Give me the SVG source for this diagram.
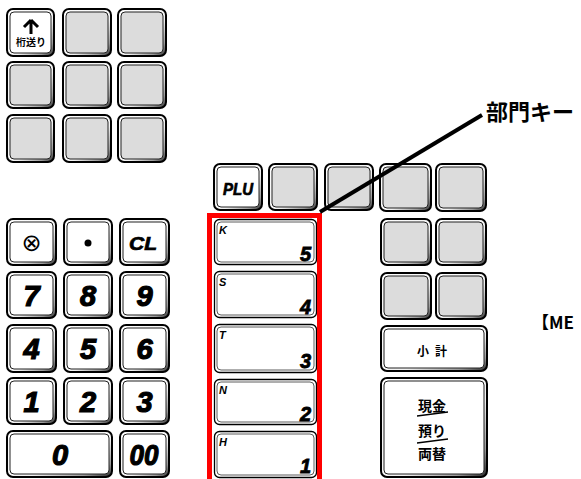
<svg xmlns="http://www.w3.org/2000/svg" width="581" height="479" viewBox="0 0 581 479">
<defs>
<linearGradient id="bev" x1="0" y1="0" x2="1" y2="1">
<stop offset="0" stop-color="#ffffff"/>
<stop offset="0.6" stop-color="#f2f2f2"/>
<stop offset="0.85" stop-color="#9a9a9a"/>
<stop offset="1" stop-color="#222"/>
</linearGradient>
<style>
.ko{fill:url(#bev);stroke:#000;stroke-width:2}
.kg{fill:#dcdcdc;stroke:#222;stroke-width:1}
.kw{fill:#fff;stroke:#222;stroke-width:1}
.do{fill:#fff;stroke:#000;stroke-width:1.3}
.di{fill:#fff;stroke:#333;stroke-width:0.8}
.num{font-family:"Liberation Sans",Arial,sans-serif;font-weight:bold;font-style:italic;font-size:29px;text-anchor:middle;fill:#000;stroke:#000;stroke-width:1.2}
.lbl{font-family:"Liberation Sans",Arial,sans-serif;font-weight:bold;font-style:italic;fill:#000;stroke:#000;stroke-width:0.7}
.dl{font-family:"Liberation Sans",Arial,sans-serif;font-weight:bold;font-style:italic;font-size:11px;fill:#000}
.dn{font-family:"Liberation Sans",Arial,sans-serif;font-weight:bold;font-style:italic;font-size:20px;text-anchor:end;fill:#000;stroke:#000;stroke-width:0.8}
.jp{font-family:"Noto Sans CJK JP","Noto Sans CJK SC",sans-serif;font-weight:bold;fill:#000;text-anchor:middle}
.lead{stroke:#000;stroke-width:4;fill:none}
</style>
</defs>
<rect width="581" height="479" fill="#fff"/>

<!-- top grid -->
<g id="k-shift"><rect class="ko" x="7" y="9" width="47" height="47" rx="6"/><rect class="kw" x="10" y="12" width="41" height="41" rx="4"/>
<path d="M31,20 L24,27 M31,20 L38,27 M31,20 L31,34" stroke="#000" stroke-width="3" fill="none"/>
<text class="jp" x="31" y="46" font-size="10">桁送り</text></g>
<g id="k-t2"><rect class="ko" x="63" y="9" width="48" height="47" rx="6"/><rect class="kg" x="66" y="12" width="42" height="41" rx="4"/></g>
<g id="k-t3"><rect class="ko" x="118" y="9" width="48" height="47" rx="6"/><rect class="kg" x="121" y="12" width="42" height="41" rx="4"/></g>
<g id="k-t4"><rect class="ko" x="7" y="62" width="47" height="46" rx="6"/><rect class="kg" x="10" y="65" width="41" height="40" rx="4"/></g>
<g id="k-t5"><rect class="ko" x="63" y="62" width="48" height="46" rx="6"/><rect class="kg" x="66" y="65" width="42" height="40" rx="4"/></g>
<g id="k-t6"><rect class="ko" x="118" y="62" width="48" height="46" rx="6"/><rect class="kg" x="121" y="65" width="42" height="40" rx="4"/></g>
<g id="k-t7"><rect class="ko" x="7" y="115" width="47" height="47" rx="6"/><rect class="kg" x="10" y="118" width="41" height="41" rx="4"/></g>
<g id="k-t8"><rect class="ko" x="63" y="115" width="48" height="47" rx="6"/><rect class="kg" x="66" y="118" width="42" height="41" rx="4"/></g>
<g id="k-t9"><rect class="ko" x="118" y="115" width="48" height="47" rx="6"/><rect class="kg" x="121" y="118" width="42" height="41" rx="4"/></g>

<!-- numeric pad -->
<g id="k-void"><rect class="ko" x="7" y="219" width="49" height="46" rx="6"/><rect class="kw" x="10" y="222" width="43" height="40" rx="4"/>
<text x="31.5" y="251" font-family="DejaVu Sans,sans-serif" font-size="24" text-anchor="middle">⊗</text></g>
<g id="k-dot"><rect class="ko" x="64" y="219" width="48" height="46" rx="6"/><rect class="kw" x="67" y="222" width="42" height="40" rx="4"/>
<circle cx="88" cy="243" r="3.5" fill="#000"/></g>
<g id="k-cl"><rect class="ko" x="120" y="219" width="49" height="46" rx="6"/><rect class="kw" x="123" y="222" width="43" height="40" rx="4"/>
<text class="lbl" x="143" y="250" font-size="18" text-anchor="middle" textLength="28" lengthAdjust="spacingAndGlyphs">CL</text></g>

<g id="k-7"><rect class="ko" x="7" y="272" width="49" height="46" rx="6"/><rect class="kw" x="10" y="275" width="43" height="40" rx="4"/><text class="num" x="31.5" y="306">7</text></g>
<g id="k-8"><rect class="ko" x="64" y="272" width="48" height="46" rx="6"/><rect class="kw" x="67" y="275" width="42" height="40" rx="4"/><text class="num" x="88" y="306">8</text></g>
<g id="k-9"><rect class="ko" x="120" y="272" width="49" height="46" rx="6"/><rect class="kw" x="123" y="275" width="43" height="40" rx="4"/><text class="num" x="144.5" y="306">9</text></g>

<g id="k-4"><rect class="ko" x="7" y="325" width="49" height="47" rx="6"/><rect class="kw" x="10" y="328" width="43" height="41" rx="4"/><text class="num" x="31.5" y="359">4</text></g>
<g id="k-5"><rect class="ko" x="64" y="325" width="48" height="47" rx="6"/><rect class="kw" x="67" y="328" width="42" height="41" rx="4"/><text class="num" x="88" y="359">5</text></g>
<g id="k-6"><rect class="ko" x="120" y="325" width="49" height="47" rx="6"/><rect class="kw" x="123" y="328" width="43" height="41" rx="4"/><text class="num" x="144.5" y="359">6</text></g>

<g id="k-1"><rect class="ko" x="7" y="378" width="49" height="46" rx="6"/><rect class="kw" x="10" y="381" width="43" height="40" rx="4"/><text class="num" x="31.5" y="412">1</text></g>
<g id="k-2"><rect class="ko" x="64" y="378" width="48" height="46" rx="6"/><rect class="kw" x="67" y="381" width="42" height="40" rx="4"/><text class="num" x="88" y="412">2</text></g>
<g id="k-3"><rect class="ko" x="120" y="378" width="49" height="46" rx="6"/><rect class="kw" x="123" y="381" width="43" height="40" rx="4"/><text class="num" x="144.5" y="412">3</text></g>

<g id="k-0"><rect class="ko" x="7" y="431" width="105" height="46" rx="6"/><rect class="kw" x="10" y="434" width="99" height="40" rx="4"/><text class="num" x="60" y="465">0</text></g>
<g id="k-00"><rect class="ko" x="120" y="431" width="49" height="46" rx="6"/><rect class="kw" x="123" y="434" width="43" height="40" rx="4"/><text class="num" x="144" y="465" textLength="29" lengthAdjust="spacingAndGlyphs">00</text></g>

<!-- PLU row -->
<g id="k-plu"><rect class="ko" x="214" y="164" width="48" height="46" rx="6"/><rect class="kw" x="217" y="167" width="42" height="40" rx="4"/>
<text class="lbl" x="238" y="195" font-size="17" text-anchor="middle" textLength="30" lengthAdjust="spacingAndGlyphs">PLU</text></g>
<g id="k-p2"><rect class="ko" x="269" y="164" width="48" height="46" rx="6"/><rect class="kg" x="272" y="167" width="42" height="40" rx="4"/></g>
<g id="k-p3"><rect class="ko" x="325" y="164" width="48" height="46" rx="6"/><rect class="kg" x="328" y="167" width="42" height="40" rx="4"/></g>
<g id="k-p4"><rect class="ko" x="380" y="164" width="51" height="47" rx="6"/><rect class="kg" x="383" y="167" width="45" height="41" rx="4"/></g>
<g id="k-p5"><rect class="ko" x="436" y="164" width="50" height="47" rx="6"/><rect class="kg" x="439" y="167" width="44" height="41" rx="4"/></g>

<!-- right block -->
<g id="k-r1"><rect class="ko" x="381" y="219" width="50" height="46" rx="6"/><rect class="kg" x="384" y="222" width="44" height="40" rx="4"/></g>
<g id="k-r2"><rect class="ko" x="436" y="219" width="50" height="46" rx="6"/><rect class="kg" x="439" y="222" width="44" height="40" rx="4"/></g>
<g id="k-r3"><rect class="ko" x="381" y="273" width="50" height="46" rx="6"/><rect class="kg" x="384" y="276" width="44" height="40" rx="4"/></g>
<g id="k-r4"><rect class="ko" x="436" y="273" width="50" height="46" rx="6"/><rect class="kg" x="439" y="276" width="44" height="40" rx="4"/></g>
<g id="k-subtotal"><rect class="ko" x="381" y="326" width="106" height="45" rx="6"/><rect class="kw" x="384" y="329" width="100" height="39" rx="4"/>
<text class="jp" x="435" y="356" font-size="12" letter-spacing="6">小計</text></g>
<g id="k-cash"><rect class="ko" x="381" y="378" width="106" height="99" rx="6"/><rect class="kw" x="384" y="381" width="100" height="93" rx="4"/>
<text class="jp" x="432" y="411" font-size="14">現金</text>
<line x1="417" y1="416" x2="448" y2="412" stroke="#000" stroke-width="1.3"/>
<text class="jp" x="432" y="436" font-size="14">預り</text>
<line x1="417" y1="443" x2="448" y2="439" stroke="#000" stroke-width="1.3"/>
<text class="jp" x="432" y="459" font-size="14">両替</text></g>

<!-- department keys -->
<g id="d-5"><rect class="do" x="214.5" y="219.5" width="102" height="45" rx="5"/><rect class="di" x="217" y="222" width="97" height="40" rx="4"/>
<text class="dl" x="219" y="234">K</text><text class="dn" x="311" y="261">5</text></g>
<g id="d-4"><rect class="do" x="214.5" y="271.5" width="102" height="46" rx="5"/><rect class="di" x="217" y="274" width="97" height="41" rx="4"/>
<text class="dl" x="219" y="286">S</text><text class="dn" x="311" y="314">4</text></g>
<g id="d-3"><rect class="do" x="214.5" y="324.5" width="102" height="48" rx="5"/><rect class="di" x="217" y="327" width="97" height="43" rx="4"/>
<text class="dl" x="219" y="339">T</text><text class="dn" x="311" y="368">3</text></g>
<g id="d-2"><rect class="do" x="214.5" y="379.5" width="102" height="45" rx="5"/><rect class="di" x="217" y="382" width="97" height="40" rx="4"/>
<text class="dl" x="219" y="394">N</text><text class="dn" x="311" y="421">2</text></g>
<g id="d-1"><rect class="do" x="214.5" y="431.5" width="102" height="46" rx="5"/><rect class="di" x="217" y="434" width="97" height="41" rx="4"/>
<text class="dl" x="219" y="446">H</text><text class="dn" x="311" y="473">1</text></g>

<!-- highlight box -->
<g id="dept-highlight"><rect x="209.5" y="215.5" width="110" height="270" fill="none" stroke="#ff0000" stroke-width="5"/></g>

<!-- connectors -->
<g id="connectors"><line class="lead" x1="320" y1="212" x2="482" y2="115"/></g>

<g id="callout"><text x="486" y="120" font-family="Noto Sans CJK JP,sans-serif" font-weight="bold" font-size="22">部門キー</text></g>
<g id="note"><text x="532" y="329" font-family="Noto Sans CJK JP,sans-serif" font-weight="bold" font-size="17">【ME</text></g>
</svg>
